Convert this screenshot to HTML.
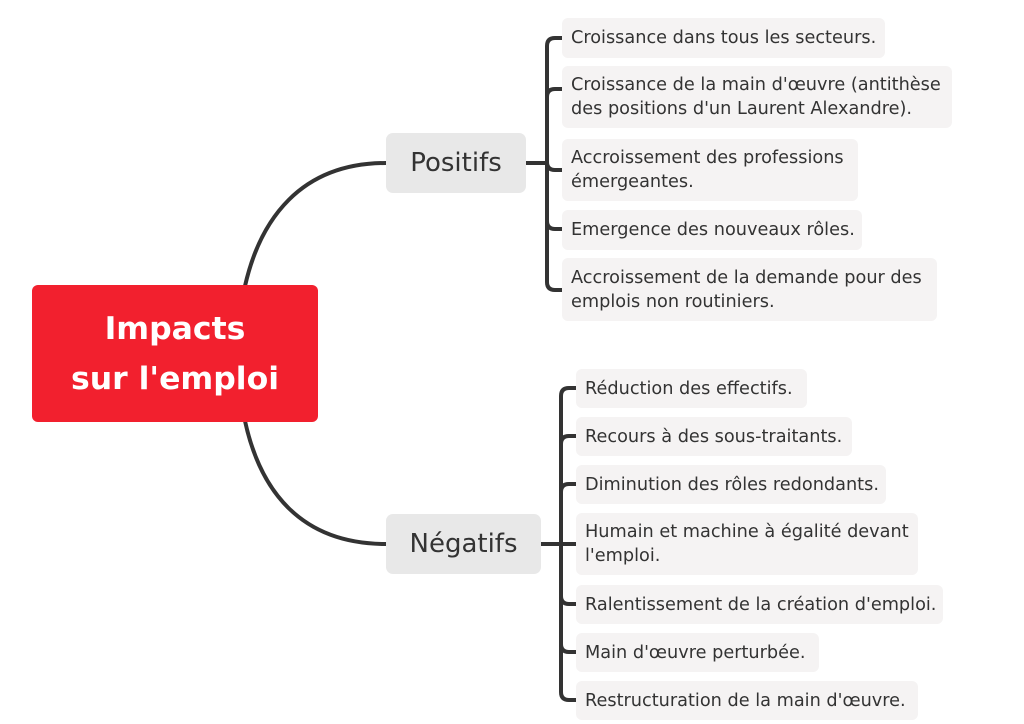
<!DOCTYPE html>
<html><head><meta charset="utf-8"><style>
body{margin:0;width:1024px;height:724px;background:#fff;position:relative;overflow:hidden;font-family:"DejaVu Sans","Liberation Sans",sans-serif}
.b{position:absolute;background:#f5f3f3;border-radius:6px;color:#333;font-size:17.7px;line-height:24px;padding-left:9px;box-sizing:border-box;display:flex;align-items:center;white-space:nowrap}
.m{position:absolute;background:#e8e8e8;border-radius:7px;color:#333;font-size:26px;display:flex;align-items:center;justify-content:center}
.r{position:absolute;left:32px;top:285px;width:286px;height:137px;background:#f2202e;border-radius:6px;color:#fff;font-weight:bold;font-size:31.5px;line-height:50px;display:flex;align-items:center;justify-content:center;text-align:center}
svg{position:absolute;left:0;top:0}
</style></head><body>
<svg width="1024" height="724" fill="none" stroke="#333" stroke-width="4">
<path d="M245 286 C260 220 300 163 386 163"/>
<path d="M245 421 C260 490 300 544 386 544"/>
<path d="M526 163 H547"/>
<path d="M562 38 H555 Q547 38 547 46 V282 Q547 290 555 290 H562"/>
<path d="M547 97 Q547 89 555 89 H562"/><path d="M547 162 Q547 170 555 170 H562"/><path d="M547 221 Q547 229 555 229 H562"/>
<path d="M541 544 H576"/>
<path d="M576 388 H569 Q561 388 561 396 V692 Q561 700 569 700 H576"/>
<path d="M561 444 Q561 436 569 436 H576"/><path d="M561 492 Q561 484 569 484 H576"/>
<path d="M561 596 Q561 604 569 604 H576"/><path d="M561 644 Q561 652 569 652 H576"/>
</svg>
<div class="r">Impacts<br>sur l'emploi</div>
<div class="m" style="left:386px;top:133px;width:140px;height:60px">Positifs</div>
<div class="m" style="left:386px;top:514px;width:155px;height:60px">Négatifs</div>
<div class="b" style="left:562px;top:18px;width:323px;height:40px">Croissance dans tous les secteurs.</div>
<div class="b" style="left:562px;top:66px;width:390px;height:62px">Croissance de la main d'œuvre (antithèse<br>des positions d'un Laurent Alexandre).</div>
<div class="b" style="left:562px;top:139px;width:296px;height:62px">Accroissement des professions<br>émergeantes.</div>
<div class="b" style="left:562px;top:210px;width:300px;height:40px">Emergence des nouveaux rôles.</div>
<div class="b" style="left:562px;top:258px;width:375px;height:63px">Accroissement de la demande pour des<br>emplois non routiniers.</div>
<div class="b" style="left:576px;top:369px;width:231px;height:39px">Réduction des effectifs.</div>
<div class="b" style="left:576px;top:417px;width:276px;height:39px">Recours à des sous-traitants.</div>
<div class="b" style="left:576px;top:465px;width:310px;height:39px">Diminution des rôles redondants.</div>
<div class="b" style="left:576px;top:513px;width:342px;height:62px">Humain et machine à égalité devant<br>l'emploi.</div>
<div class="b" style="left:576px;top:585px;width:367px;height:39px">Ralentissement de la création d'emploi.</div>
<div class="b" style="left:576px;top:633px;width:243px;height:39px">Main d'œuvre perturbée.</div>
<div class="b" style="left:576px;top:681px;width:342px;height:39px">Restructuration de la main d'œuvre.</div>
</body></html>
